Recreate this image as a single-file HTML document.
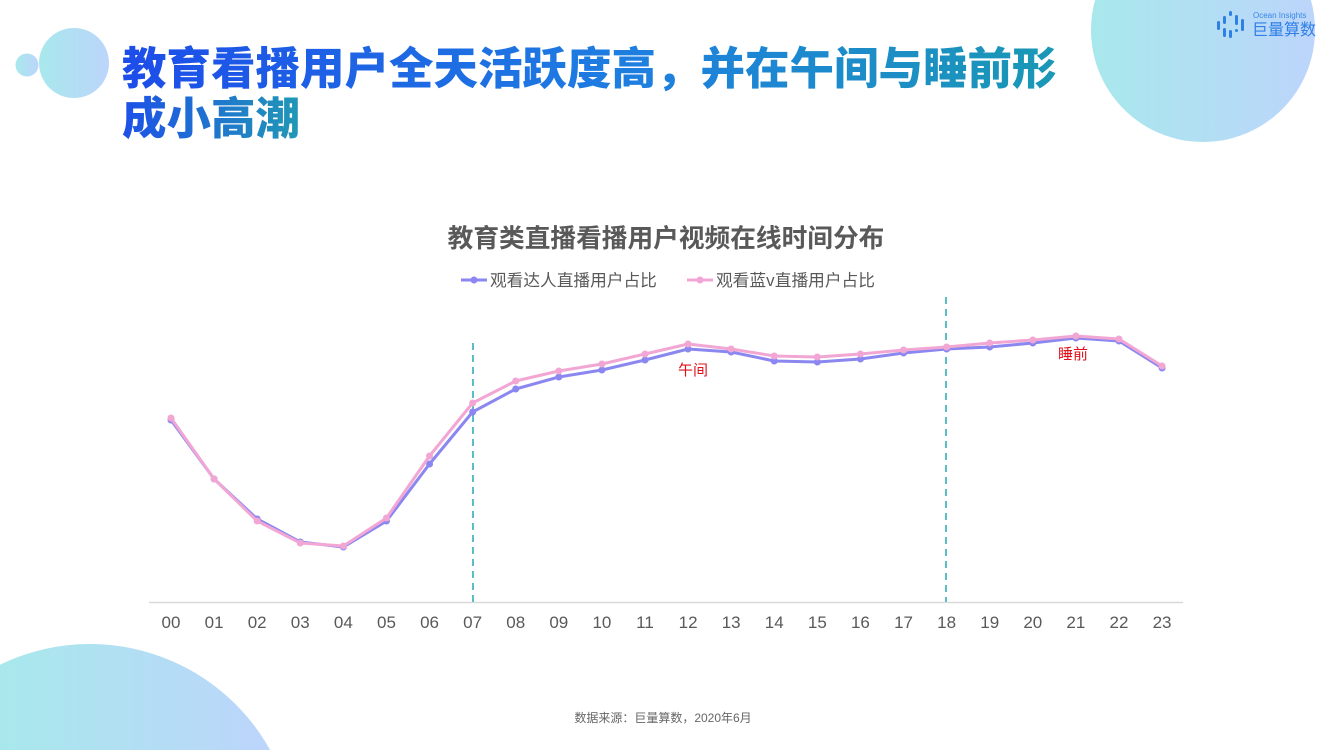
<!DOCTYPE html>
<html><head><meta charset="utf-8">
<style>
html,body{margin:0;padding:0;background:#fff;width:1334px;height:750px;overflow:hidden;}
#w{width:1334px;height:750px;position:relative;overflow:hidden;font-family:"Liberation Sans","Noto Sans CJK SC",sans-serif;}
.t{position:absolute;left:122px;font-family:"Noto Sans CJK SC",sans-serif;font-weight:900;font-size:44.5px;line-height:55px;white-space:nowrap;}
.t span{display:inline-block;background-clip:text;-webkit-background-clip:text;color:transparent;}
</style></head><body><div id="w">
<svg style="position:absolute;left:0;top:0" width="1334" height="750" viewBox="0 0 1334 750">
<defs>
<linearGradient id="cg" x1="0" y1="0" x2="1" y2="0">
<stop offset="0" stop-color="#a8e8ec"/><stop offset="1" stop-color="#bcd5fb"/>
</linearGradient>
</defs>
<path d="M1095.1,0 A112,112 0 1 0 1310.9,0 Z" fill="url(#cg)"/>
<path d="M0,750 L0,664.7 A206,206 0 0 1 270.1,750 Z" fill="url(#cg)"/>
<circle cx="27" cy="65" r="11.5" fill="url(#cg)"/>
<circle cx="74" cy="63" r="35" fill="url(#cg)"/>
</svg>

<div class="t" style="top:37px;"><span style="background-image:linear-gradient(90deg,#1d4de9,#1e7fe0 55%,#1a98b4);">教育看播用户全天活跃度高，并在午间与睡前形</span></div>
<div class="t" style="top:87px;"><span style="background-image:linear-gradient(90deg,#1d50e8,#2198b6);">成小高潮</span></div>

<!-- logo -->
<svg style="position:absolute;left:1216px;top:10px" width="32" height="30" viewBox="0 0 32 30">
<g fill="#2e7fe6">
<rect x="1" y="11" width="3" height="9" rx="1.5"/>
<rect x="7" y="6" width="3" height="8" rx="1.5"/>
<rect x="7" y="18" width="3" height="9" rx="1.5"/>
<rect x="13" y="1" width="3" height="5" rx="1.5"/>
<rect x="13" y="20" width="3" height="8" rx="1.5"/>
<rect x="19" y="5" width="3" height="10" rx="1.5"/>
<rect x="19" y="19" width="3" height="3" rx="1.5"/>
<rect x="25" y="9" width="3" height="12" rx="1.5"/>
</g></svg>
<div style="position:absolute;left:1253px;top:11px;font-size:8px;line-height:9px;color:#3a86e6;">Ocean Insights</div>
<div style="position:absolute;left:1252px;top:19px;font-size:16px;line-height:18px;color:#2f7fe6;font-family:'Noto Sans CJK SC',sans-serif;">巨量算数</div>

<div style="position:absolute;left:0;width:1334px;top:221px;text-align:center;font-family:'Noto Sans CJK SC',sans-serif;font-weight:bold;font-size:25.7px;line-height:32px;color:#595959;padding-right:2px;box-sizing:border-box;">教育类直播看播用户视频在线时间分布</div>

<svg style="position:absolute;left:0;top:0" width="1334" height="750" viewBox="0 0 1334 750">
<!-- legend -->
<line x1="461" y1="280" x2="487" y2="280" stroke="#8b87f0" stroke-width="3"/>
<circle cx="474" cy="280" r="3.5" fill="#8b87f0"/>
<text x="490" y="286" font-family="Noto Sans CJK SC, sans-serif" font-size="16.7" fill="#595959">观看达人直播用户占比</text>
<line x1="687" y1="280" x2="713" y2="280" stroke="#f2a6d4" stroke-width="3"/>
<circle cx="700" cy="280" r="3.5" fill="#f2a6d4"/>
<text x="716" y="286" font-family="Noto Sans CJK SC, sans-serif" font-size="16.7" fill="#595959">观看蓝v直播用户占比</text>

<line x1="149" y1="602.5" x2="1183" y2="602.5" stroke="#d9d9d9" stroke-width="1.5"/>
<line x1="473" y1="343" x2="473" y2="602" stroke="#5bbdc6" stroke-width="2" stroke-dasharray="7,5"/>
<line x1="946" y1="297" x2="946" y2="602" stroke="#5bbdc6" stroke-width="2" stroke-dasharray="7,5"/>

<g id="lines"></g>

<text x="693" y="375" text-anchor="middle" font-family="Noto Sans CJK SC, sans-serif" font-size="15" fill="#e0101a">午间</text>
<text x="1073" y="359" text-anchor="middle" font-family="Noto Sans CJK SC, sans-serif" font-size="15" fill="#e0101a">睡前</text>

<g font-family="Liberation Sans, sans-serif" font-size="17" fill="#595959" text-anchor="middle" id="xl"></g>
</svg>

<div style="position:absolute;left:0;width:1334px;top:710px;text-align:center;font-size:12px;line-height:16px;color:#666;font-family:'Liberation Sans','Noto Sans CJK SC',sans-serif;padding-right:8px;box-sizing:border-box;">数据来源：巨量算数，2020年6月</div>
</div>
<script>
(function(){
var ns="http://www.w3.org/2000/svg";
var blue=[420,479,519,542,547,521,464,412,389,377,370,360,349,352,361,362,359,353,349,347,343,338,341,368];
var pink=[418,479,521,543,546,518,456,403,381,371,364,354,344,349,356,357,354,350,347,343,340,336,339,366];
function X(i){return 171+43.09*i;}
var g=document.getElementById('lines');
function draw(d,c){
  var p=document.createElementNS(ns,'polyline');
  p.setAttribute('points',d.map(function(y,i){return X(i).toFixed(1)+','+y;}).join(' '));
  p.setAttribute('fill','none');p.setAttribute('stroke',c);p.setAttribute('stroke-width','3');
  p.setAttribute('stroke-linejoin','round');
  g.appendChild(p);
  d.forEach(function(y,i){var ci=document.createElementNS(ns,'circle');ci.setAttribute('cx',X(i));ci.setAttribute('cy',y);ci.setAttribute('r','3.5');ci.setAttribute('fill',c);g.appendChild(ci);});
}
draw(blue,'#8b87f0');
draw(pink,'#f2a6d4');
var xl=document.getElementById('xl');
for(var i=0;i<24;i++){var t=document.createElementNS(ns,'text');t.setAttribute('x',X(i));t.setAttribute('y',628);t.textContent=(i<10?'0':'')+i;xl.appendChild(t);}
})();
</script>
</body></html>
